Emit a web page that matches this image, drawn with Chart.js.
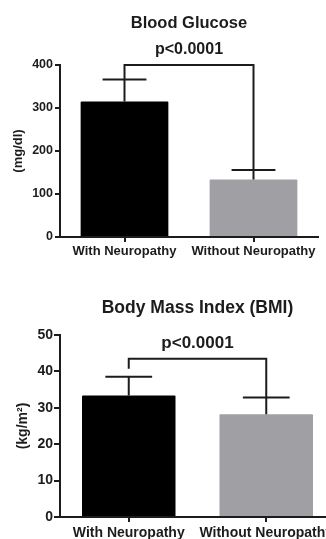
<!DOCTYPE html>
<html>
<head>
<meta charset="utf-8">
<script src="https://cdn.jsdelivr.net/npm/chart.js@4.4.0/dist/chart.umd.min.js"></script>
<style>
  html, body { margin: 0; padding: 0; background: #fff; overflow: hidden; }
  body { width: 326px; height: 539px; position: relative; }
  canvas { position: absolute; left: 0; }
  #glucose { top: 0; }
  #bmi { top: 270px; }
</style>
</head>
<body>
<canvas id="glucose" width="326" height="262"></canvas>
<canvas id="bmi" width="340" height="269"></canvas>
<script>
// data
const groups = ['With Neuropathy', 'Without Neuropathy'];

const glucoseMean = [315, 134];
const glucoseErr = [51, 22];
const glucoseTicks = [0, 100, 200, 300, 400];
const glucoseBracket = 400;
const glucoseLegEnds = [366, 156];

const bmiMean = [33.4, 28.2];
const bmiErr = [5.1, 4.6];
const bmiTicks = [0, 10, 20, 30, 40, 50];
const bmiBracket = 43.5;
const bmiLegEnds = [40.7, 32.8];

const pText = 'p<0.0001';
const barColors = ['#000000', '#a09fa3'];
const ink = '#1c1c1c';
const fontFamily = "'Liberation Sans', Arial, Helvetica, sans-serif";

// upward-only error bars with caps
const errorBarPlugin = {
  id: 'errorBars',
  afterDatasetsDraw(chart, args, opts) {
    const ctx = chart.ctx;
    const yScale = chart.scales.y;
    const values = chart.data.datasets[0].data;
    ctx.save();
    ctx.strokeStyle = ink;
    ctx.lineWidth = 2;
    chart.getDatasetMeta(0).data.forEach((bar, i) => {
      const top = yScale.getPixelForValue(values[i] + opts.err[i]);
      const half = bar.width * 0.25;
      ctx.beginPath();
      ctx.moveTo(bar.x, bar.y);
      ctx.lineTo(bar.x, top);
      ctx.moveTo(bar.x - half, top);
      ctx.lineTo(bar.x + half, top);
      ctx.stroke();
    });
    ctx.restore();
  }
};

// significance bracket + p value
const bracketPlugin = {
  id: 'bracket',
  afterDatasetsDraw(chart, args, opts) {
    const ctx = chart.ctx;
    const yScale = chart.scales.y;
    const bars = chart.getDatasetMeta(0).data;
    const yTop = yScale.getPixelForValue(opts.level);
    const x0 = bars[0].x;
    const x1 = bars[1].x;
    ctx.save();
    ctx.strokeStyle = ink;
    ctx.lineWidth = 2;
    ctx.beginPath();
    ctx.moveTo(x0, yScale.getPixelForValue(opts.legs[0]));
    ctx.lineTo(x0, yTop);
    ctx.lineTo(x1, yTop);
    ctx.lineTo(x1, yScale.getPixelForValue(opts.legs[1]));
    ctx.stroke();
    ctx.fillStyle = ink;
    ctx.font = `bold ${opts.fontSize}px ${fontFamily}`;
    ctx.textAlign = 'center';
    ctx.textBaseline = 'middle';
    ctx.fillText(pText, (x0 + x1) / 2, yTop - opts.gap);
    ctx.restore();
  }
};

function makeBarChart(canvas, cfg) {
  const axisFont = { family: fontFamily, weight: 'bold', size: cfg.tickSize };

  return new Chart(canvas.getContext('2d'), {
    type: 'bar',
    plugins: [errorBarPlugin, bracketPlugin],
    data: {
      labels: groups,
      datasets: [{
        data: cfg.means,
        backgroundColor: barColors,
        borderWidth: 0,
        borderRadius: 1,
        categoryPercentage: 1,
        barPercentage: 0.68
      }]
    },
    options: {
      responsive: false,
      animation: false,
      devicePixelRatio: 1,
      layout: {
        padding: { left: 0, right: cfg.padRight, top: 0, bottom: 0 }
      },
      scales: {
        x: {
          afterFit: scale => { scale.height = cfg.xHeight; },
          grid: {
            display: true,
            drawOnChartArea: false,
            offset: false,
            tickLength: 5,
            tickColor: ink,
            lineWidth: 2
          },
          border: { display: true, color: ink, width: 2 },
          ticks: {
            color: ink,
            font: { family: fontFamily, weight: 'bold', size: cfg.labelSize },
            padding: cfg.labelPad,
            maxRotation: 0,
            autoSkip: false
          }
        },
        y: {
          min: cfg.ticks[0],
          max: cfg.ticks[cfg.ticks.length - 1],
          afterFit: scale => { scale.width = 60; },
          afterBuildTicks: scale => { scale.ticks = cfg.ticks.map(v => ({ value: v })); },
          grid: {
            display: true,
            drawOnChartArea: false,
            tickLength: cfg.tickLen,
            tickColor: ink,
            lineWidth: 2
          },
          border: { display: true, color: ink, width: 2 },
          ticks: {
            color: ink,
            font: axisFont,
            padding: cfg.tickPad
          },
          title: {
            display: true,
            text: cfg.yTitle,
            color: ink,
            font: { family: fontFamily, weight: 'bold', size: cfg.yTitleSize },
            padding: { top: cfg.yTitlePad, bottom: 0 }
          }
        }
      },
      plugins: {
        legend: { display: false },
        tooltip: { enabled: false },
        title: {
          display: true,
          text: cfg.title,
          fullSize: false,
          color: ink,
          font: { family: fontFamily, weight: 'bold', size: cfg.titleSize, lineHeight: 1.2 },
          padding: cfg.titlePad
        },
        errorBars: { err: cfg.err },
        bracket: { level: cfg.bracket, legs: cfg.legs, fontSize: cfg.pSize, gap: 15 }
      }
    }
  });
}

makeBarChart(document.getElementById('glucose'), {
  title: 'Blood Glucose',
  titleSize: 16.5,
  titlePad: { top: 14, bottom: 31.2 },
  yTitle: '(mg/dl)',
  yTitleSize: 13,
  yTitlePad: 11,
  means: glucoseMean,
  err: glucoseErr,
  ticks: glucoseTicks,
  bracket: glucoseBracket,
  legs: glucoseLegEnds,
  pSize: 16,
  tickSize: 12.5,
  tickLen: 5,
  tickPad: 2,
  labelSize: 13,
  labelPad: 2,
  xHeight: 25,
  padRight: 8
});

makeBarChart(document.getElementById('bmi'), {
  title: 'Body Mass Index (BMI)',
  titleSize: 17.5,
  titlePad: { top: 27.5, bottom: 16.5 },
  yTitle: '(kg/m²)',
  yTitleSize: 14,
  yTitlePad: 14.5,
  means: bmiMean,
  err: bmiErr,
  ticks: bmiTicks,
  bracket: bmiBracket,
  legs: bmiLegEnds,
  pSize: 17,
  tickSize: 14,
  tickLen: 6,
  tickPad: 1,
  labelSize: 14,
  labelPad: 3,
  xHeight: 22,
  padRight: 5
});
</script>
</body>
</html>
